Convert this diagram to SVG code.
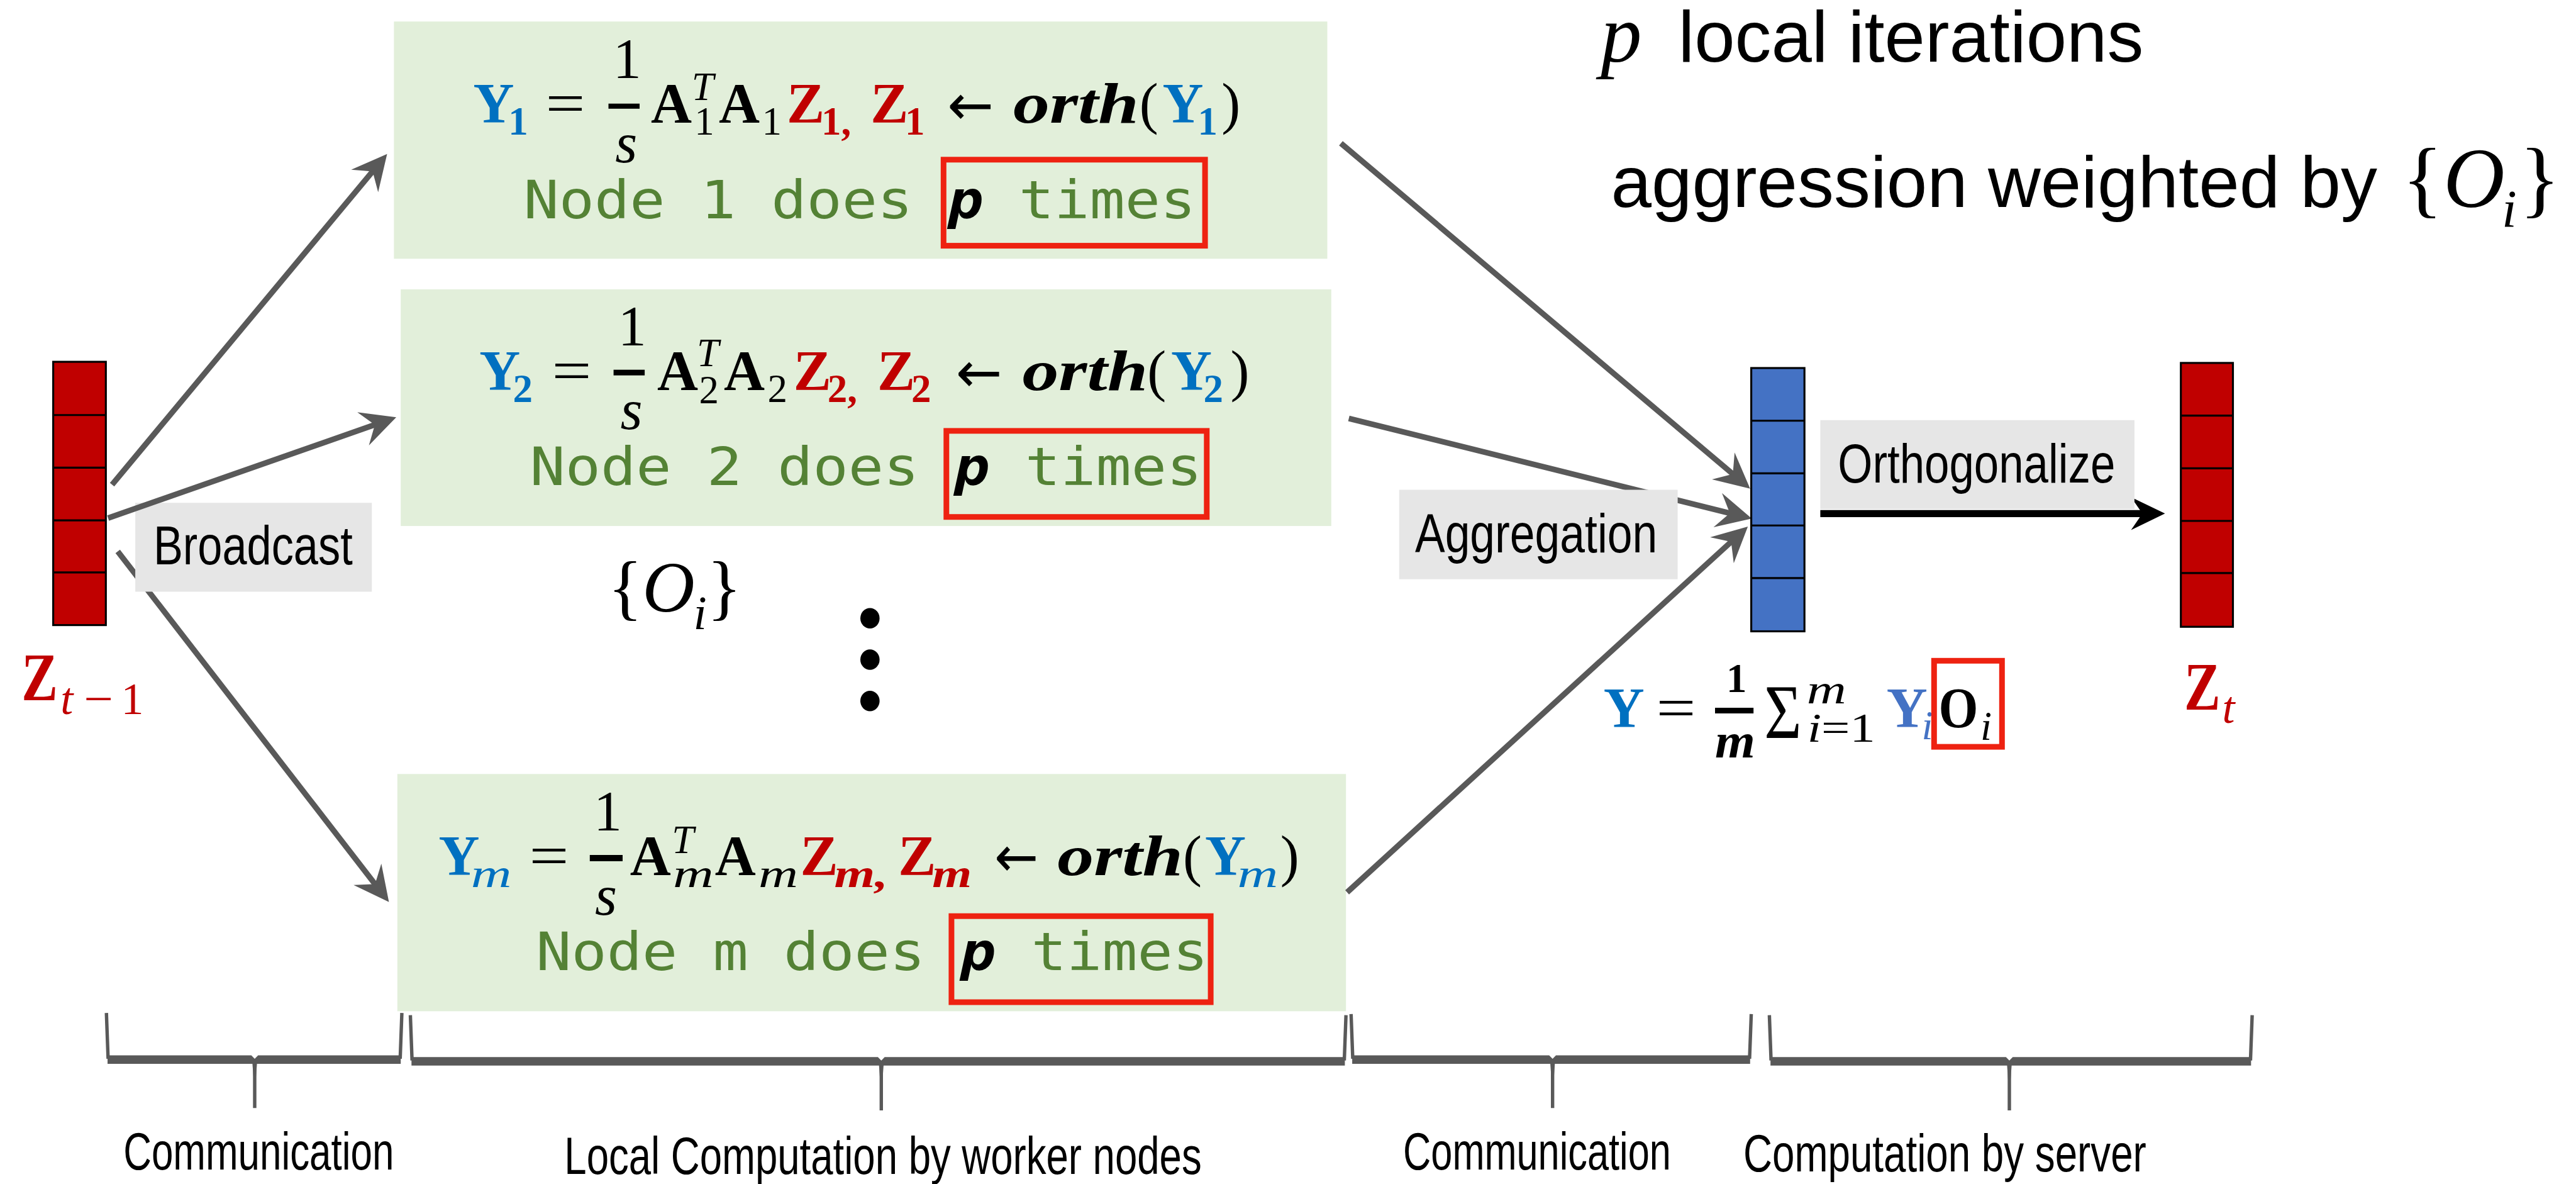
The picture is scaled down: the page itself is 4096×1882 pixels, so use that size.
<svg xmlns="http://www.w3.org/2000/svg" width="4096" height="1882" viewBox="0 0 4096 1882">
<defs>
<style>
.gbox{fill:#E2EFDA}
.lbl{fill:#E6E6E6}
.rbox{fill:none;stroke:#EE2211;stroke-width:10}
.f{font-family:"Liberation Serif","DejaVu Serif",serif;font-size:100px;fill:#000}
.ar{font-family:"DejaVu Sans","Liberation Sans",sans-serif;font-size:100px;fill:#000}
.b{font-weight:bold}
.i{font-style:italic}
.blue{fill:#0070C0}
.lblue{fill:#4472C4}
.red{fill:#C00000}
.sub{font-size:70px}
.mono{font-family:"DejaVu Sans Mono","Liberation Mono",monospace;font-size:92px;fill:#548235}
.pb{fill:#000;font-weight:bold;font-style:italic}
.sans{font-family:"Liberation Sans",Arial,sans-serif;fill:#000}
.conn{stroke:#595959;stroke-width:10;fill:none}
.cell{stroke:#000;stroke-width:3.5}
.brace{stroke:#595959;stroke-width:6;fill:none}
.bracef{fill:#595959}
</style>
<marker id="ah" markerUnits="userSpaceOnUse" markerWidth="62" markerHeight="62" refX="34" refY="31" orient="auto" overflow="visible"><path d="M0,0 L62,31 L0,62 L22,31 Z" fill="#595959"/></marker>
<marker id="ahk" markerUnits="userSpaceOnUse" markerWidth="62" markerHeight="62" refX="34" refY="31" orient="auto" overflow="visible"><path d="M2,2 L62,31 L2,60 L22,31 Z" fill="#000"/></marker>
</defs>
<rect width="4096" height="1882" fill="#fff"/>
<g transform="scale(0.9)">

<!-- worker node boxes -->
<g id="node-1">
<rect class="gbox" x="696" y="38" width="1649" height="419"/>
<text class="f b blue" x="836" y="217">Y</text>
<text class="f b blue sub" x="898" y="238">1</text>
<text class="f" x="964" y="217" textLength="70" lengthAdjust="spacingAndGlyphs">=</text>
<text class="f" x="1083" y="138">1</text>
<rect x="1075" y="183" width="55" height="9" fill="#000"/>
<text class="f i" x="1087" y="287">s</text>
<text class="f b" x="1150" y="217">A</text>
<text class="f i sub" x="1222" y="177">T</text>
<text class="f sub" x="1227" y="238">1</text>
<text class="f b" x="1270" y="217">A</text>
<text class="f sub" x="1346" y="238">1</text>
<text class="f b red" x="1390" y="217">Z</text>
<text class="f b red sub" x="1451" y="238">1,</text>
<text class="f b red" x="1538" y="217">Z</text>
<text class="f b red sub" x="1599" y="238">1</text>
<text class="ar" x="1674" y="220" textLength="82" lengthAdjust="spacingAndGlyphs">←</text>
<text class="f b i" x="1790" y="217" textLength="222" lengthAdjust="spacingAndGlyphs">orth</text>
<text class="f" x="2013" y="217">(</text>
<text class="f b blue" x="2054" y="217">Y</text>
<text class="f b blue sub" x="2116" y="238">1</text>
<text class="f" x="2158" y="217">)</text>
<text class="mono" x="925" y="385" textLength="687.5" lengthAdjust="spacingAndGlyphs">Node 1 does</text>
<text class="mono pb" x="1675" y="385" textLength="62.5" lengthAdjust="spacingAndGlyphs">p</text>
<text class="mono" x="1800" y="385" textLength="312.5" lengthAdjust="spacingAndGlyphs">times</text>
<rect class="rbox" x="1667" y="282" width="462" height="152"/>
</g>

<g id="node-2">
<rect class="gbox" x="708" y="511" width="1644" height="418"/>
<text class="f b blue" x="847" y="689">Y</text>
<text class="f b blue sub" x="906" y="710">2</text>
<text class="f" x="975" y="689" textLength="70" lengthAdjust="spacingAndGlyphs">=</text>
<text class="f" x="1092" y="610">1</text>
<rect x="1084" y="653" width="55" height="10" fill="#000"/>
<text class="f i" x="1096" y="758">s</text>
<text class="f b" x="1161" y="689">A</text>
<text class="f i sub" x="1231" y="647">T</text>
<text class="f sub" x="1235" y="712">2</text>
<text class="f b" x="1279" y="689">A</text>
<text class="f sub" x="1356" y="710">2</text>
<text class="f b red" x="1402" y="689">Z</text>
<text class="f b red sub" x="1462" y="710">2,</text>
<text class="f b red" x="1550" y="689">Z</text>
<text class="f b red sub" x="1610" y="710">2</text>
<text class="ar" x="1689" y="692" textLength="82" lengthAdjust="spacingAndGlyphs">←</text>
<text class="f b i" x="1806" y="689" textLength="222" lengthAdjust="spacingAndGlyphs">orth</text>
<text class="f" x="2027" y="689">(</text>
<text class="f b blue" x="2069" y="689">Y</text>
<text class="f b blue sub" x="2126" y="710">2</text>
<text class="f" x="2174" y="689">)</text>
<text class="mono" x="936" y="857" textLength="687.5" lengthAdjust="spacingAndGlyphs">Node 2 does</text>
<text class="mono pb" x="1686" y="857" textLength="62.5" lengthAdjust="spacingAndGlyphs">p</text>
<text class="mono" x="1811" y="857" textLength="312.5" lengthAdjust="spacingAndGlyphs">times</text>
<rect class="rbox" x="1672" y="761" width="460" height="152"/>
</g>

<g id="node-m">
<rect class="gbox" x="702" y="1367" width="1676" height="419"/>
<text class="f b blue" x="775" y="1545">Y</text>
<text class="f i blue sub" x="832" y="1567" textLength="72" lengthAdjust="spacingAndGlyphs">m</text>
<text class="f" x="935" y="1545" textLength="70" lengthAdjust="spacingAndGlyphs">=</text>
<text class="f" x="1049" y="1467">1</text>
<rect x="1042" y="1510" width="58" height="11" fill="#000"/>
<text class="f i" x="1051" y="1615">s</text>
<text class="f b" x="1113" y="1545">A</text>
<text class="f i sub" x="1187" y="1507">T</text>
<text class="f i sub" x="1189" y="1567" textLength="72" lengthAdjust="spacingAndGlyphs">m</text>
<text class="f b" x="1263" y="1545">A</text>
<text class="f i sub" x="1340" y="1567" textLength="70" lengthAdjust="spacingAndGlyphs">m</text>
<text class="f b red" x="1414" y="1545">Z</text>
<text class="f b i red sub" x="1474" y="1567" textLength="95" lengthAdjust="spacingAndGlyphs">m,</text>
<text class="f b red" x="1587" y="1545">Z</text>
<text class="f b i red sub" x="1647" y="1567" textLength="70" lengthAdjust="spacingAndGlyphs">m</text>
<text class="ar" x="1757" y="1548" textLength="78" lengthAdjust="spacingAndGlyphs">←</text>
<text class="f b i" x="1868" y="1545" textLength="222" lengthAdjust="spacingAndGlyphs">orth</text>
<text class="f" x="2090" y="1545">(</text>
<text class="f b blue" x="2129" y="1545">Y</text>
<text class="f i blue sub" x="2186" y="1567" textLength="72" lengthAdjust="spacingAndGlyphs">m</text>
<text class="f" x="2262" y="1545">)</text>
<text class="mono" x="947" y="1713" textLength="687.5" lengthAdjust="spacingAndGlyphs">Node m does</text>
<text class="mono pb" x="1697" y="1713" textLength="62.5" lengthAdjust="spacingAndGlyphs">p</text>
<text class="mono" x="1822" y="1713" textLength="312.5" lengthAdjust="spacingAndGlyphs">times</text>
<rect class="rbox" x="1681" y="1618" width="458" height="152"/>
</g>

<!-- weights and ellipsis -->
<g id="weights-mid">
<text class="f" x="1074" y="1080" style="font-size:128px">{</text>
<text class="f i" x="1135" y="1080" style="font-size:128px">O</text>
<text class="f i" x="1225" y="1111" style="font-size:85px">i</text>
<text class="f" x="1249" y="1080" style="font-size:128px">}</text>
</g>
<g id="ellipsis" fill="#000">
<ellipse cx="1537" cy="1092" rx="17" ry="18"/>
<ellipse cx="1537" cy="1165" rx="17" ry="18"/>
<ellipse cx="1537" cy="1238" rx="17" ry="18"/>
</g>

<!-- connectors -->
<g id="connectors">
<line class="conn" x1="208" y1="974" x2="670" y2="1571" marker-end="url(#ah)"/>
<line class="conn" x1="2369" y1="253" x2="3070.6" y2="844.9" marker-end="url(#ah)"/>
<line class="conn" x1="2383" y1="739" x2="3067.8" y2="909.2" marker-end="url(#ah)"/>
<line class="conn" x1="2380" y1="1576" x2="3067.3" y2="948.9" marker-end="url(#ah)"/>
<line class="conn" x1="198" y1="856" x2="666" y2="293.5" marker-end="url(#ah)"/>
<line x1="3216" y1="907" x2="3797" y2="907" stroke="#000" stroke-width="12.6" marker-end="url(#ahk)"/>
</g>

<g id="label-broadcast">
<rect class="lbl" x="239" y="888" width="418" height="157"/>
<text class="sans" x="271" y="997" font-size="96" textLength="352" lengthAdjust="spacingAndGlyphs">Broadcast</text>
</g>
<line class="conn" x1="191" y1="915" x2="673.6" y2="746.2" marker-end="url(#ah)"/>

<g id="label-aggregation">
<rect class="lbl" x="2472" y="865" width="492" height="158"/>
<text class="sans" x="2500" y="975" font-size="96" textLength="428" lengthAdjust="spacingAndGlyphs">Aggregation</text>
</g>

<g id="label-orthogonalize">
<rect class="lbl" x="3216" y="742" width="555" height="157"/>
<text class="sans" x="3247" y="852" font-size="96" textLength="490" lengthAdjust="spacingAndGlyphs">Orthogonalize</text>
</g>

<!-- vectors -->
<g id="node-z-prev">
<rect x="94" y="639" width="93" height="465" class="red cell"/>
<path class="cell" d="M94 733H187M94 826H187M94 919H187M94 1011H187"/>
<text class="f b red" x="38" y="1237" style="font-size:120px" textLength="64" lengthAdjust="spacingAndGlyphs">Z</text>
<text class="f i red" x="107" y="1261" style="font-size:80px">t</text>
<text class="f red" x="148" y="1261" style="font-size:80px" textLength="52" lengthAdjust="spacingAndGlyphs">−</text>
<text class="f red" x="214" y="1261" style="font-size:80px">1</text>
</g>

<g id="node-y">
<rect x="3094" y="650" width="94" height="465" class="lblue cell"/>
<path class="cell" d="M3094 743H3188M3094 836H3188M3094 928H3188M3094 1021H3188"/>
<text class="f b blue" x="2833" y="1284">Y</text>
<text class="f" x="2926" y="1284" textLength="70" lengthAdjust="spacingAndGlyphs">=</text>
<text class="f b" x="3050" y="1222" style="font-size:72px">1</text>
<rect x="3030" y="1250" width="68" height="10" fill="#000"/>
<text class="f b i" x="3030" y="1338" style="font-size:88px" textLength="71" lengthAdjust="spacingAndGlyphs">m</text>
<text class="f" x="3117" y="1303" style="font-size:136px" textLength="66" lengthAdjust="spacingAndGlyphs">Σ</text>
<text class="f i" x="3192" y="1242" style="font-size:72px" textLength="70" lengthAdjust="spacingAndGlyphs">m</text>
<text class="f" x="3193" y="1310" style="font-size:72px" textLength="120" lengthAdjust="spacingAndGlyphs"><tspan class="i">i</tspan>=1</text>
<text class="f b lblue" x="3333" y="1284">Y</text>
<text class="f i lblue" x="3395" y="1305" style="font-size:72px">i</text>
<text class="f b" x="3425" y="1284" textLength="70" lengthAdjust="spacingAndGlyphs">O</text>
<text class="f i" x="3499" y="1307" style="font-size:72px">i</text>
<rect class="rbox" x="3417" y="1167" width="120" height="152"/>
</g>

<g id="node-z">
<rect x="3853" y="641" width="92" height="466" class="red cell"/>
<path class="cell" d="M3853 734H3945M3853 827H3945M3853 920H3945M3853 1012H3945"/>
<text class="f b red" x="3859" y="1253" style="font-size:120px" textLength="64" lengthAdjust="spacingAndGlyphs">Z</text>
<text class="f i red" x="3926" y="1277" style="font-size:80px">t</text>
</g>

<!-- top-right notes -->
<g id="notes">
<text class="f i" x="2828" y="109" style="font-size:145px">p</text>
<text class="sans" x="2965" y="109" font-size="127" textLength="822" lengthAdjust="spacingAndGlyphs">local iterations</text>
<text class="sans" x="2846" y="366" font-size="127" textLength="1354" lengthAdjust="spacingAndGlyphs">aggression weighted by</text>
<text class="f" x="4244" y="366" style="font-size:150px">{</text>
<text class="f i" x="4317" y="366" style="font-size:150px">O</text>
<text class="f i" x="4420" y="401" style="font-size:95px">i</text>
<text class="f" x="4451" y="366" style="font-size:150px">}</text>
</g>

<!-- bottom braces -->
<g id="phase-braces">
<path class="brace" d="M188 1789L191 1870M710 1789L707 1870M450 1878L450 1957"/>
<path class="bracef" d="M190 1864H444L450 1870L456 1864H708V1879H454L452 1905H448L446 1879H190Z"/>
<path class="brace" d="M725 1793L728 1873M2378 1793L2375 1873M1557 1883L1557 1961"/>
<path class="bracef" d="M727 1867H1551L1557 1873L1563 1867H2376V1882H1561L1559 1910H1555L1553 1882H727Z"/>
<path class="brace" d="M2387 1791L2390 1870M3094 1791L3091 1870M2743 1880L2743 1957"/>
<path class="bracef" d="M2389 1864H2737L2743 1870L2749 1864H3092V1879H2747L2745 1907H2741L2739 1879H2389Z"/>
<path class="brace" d="M3126 1793L3129 1873M3979 1793L3976 1873M3550 1883L3550 1961"/>
<path class="bracef" d="M3128 1867H3544L3550 1873L3556 1867H3977V1882H3554L3552 1910H3548L3546 1882H3128Z"/>
</g>
<g id="phase-labels">
<text class="sans" x="218" y="2065" font-size="92" textLength="478" lengthAdjust="spacingAndGlyphs">Communication</text>
<text class="sans" x="997" y="2073" font-size="92" textLength="1126" lengthAdjust="spacingAndGlyphs">Local Computation by worker nodes</text>
<text class="sans" x="2479" y="2065" font-size="92" textLength="473" lengthAdjust="spacingAndGlyphs">Communication</text>
<text class="sans" x="3080" y="2069" font-size="92" textLength="712" lengthAdjust="spacingAndGlyphs">Computation by server</text>
</g>
</g>
</svg>
